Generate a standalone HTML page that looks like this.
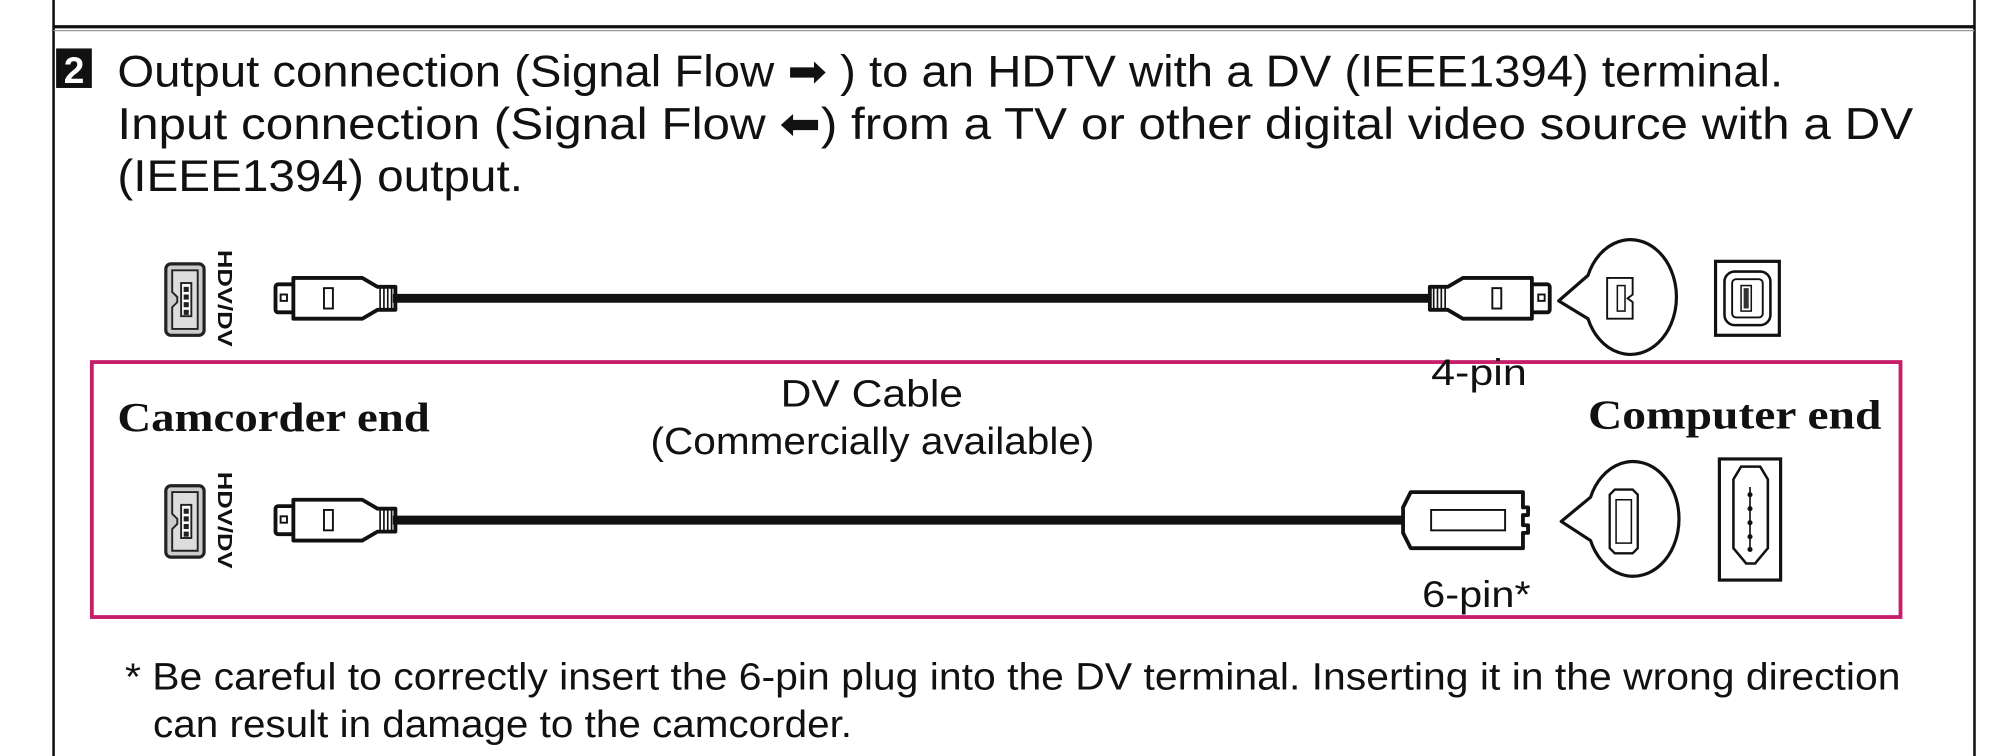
<!DOCTYPE html>
<html><head><meta charset="utf-8"><style>
html,body{margin:0;padding:0;background:#fff;}
svg{display:block;}
.t{font-family:"Liberation Sans","DejaVu Sans",sans-serif;fill:#111;}
.s{font-family:"Liberation Serif",serif;font-weight:bold;fill:#111;}
</style></head><body>
<svg width="2000" height="756" viewBox="0 0 1568 593" preserveAspectRatio="none" xmlns="http://www.w3.org/2000/svg">
<defs>
<g id="port4">
  <rect x="0" y="0" width="30" height="56" rx="4" fill="#ccc" stroke="#222" stroke-width="2.5"/>
  <path d="M5 5 H25 V51 H5 V34 L9 30 V26 L5 22 Z" fill="#ddd" stroke="#222" stroke-width="1.5"/>
  <rect x="12" y="15" width="8" height="26" fill="#fff" stroke="#222" stroke-width="1.5"/>
  <rect x="14" y="18" width="4" height="4" fill="#222"/><rect x="14" y="24" width="4" height="4" fill="#222"/>
  <rect x="14" y="30" width="4" height="4" fill="#222"/><rect x="14" y="36" width="4" height="4" fill="#222"/>
</g>
<g id="plug4">
  <rect x="0" y="-11" width="15" height="22" rx="2" fill="#fff" stroke="#111" stroke-width="3"/>
  <rect x="4" y="-3" width="5" height="5" fill="none" stroke="#111" stroke-width="1.5"/>
  <path d="M14 -16 H68 L80 -9 H94 V9 H80 L68 16 H14 Z" fill="#fff" stroke="#111" stroke-width="3" stroke-linejoin="round"/>
  <rect x="38" y="-8" width="7" height="16" fill="none" stroke="#111" stroke-width="1.5"/>
  <path d="M82 -8 V8 M85 -8 V8 M88 -8 V8 M91 -8 V8" stroke="#111" stroke-width="1.3"/>
</g>
</defs>

<line x1="42" y1="0" x2="42" y2="593" stroke="#111" stroke-width="2"/>
<line x1="1548" y1="0" x2="1548" y2="593" stroke="#111" stroke-width="2"/>
<line x1="42" y1="21" x2="1548" y2="21" stroke="#111" stroke-width="2.5"/>
<line x1="42" y1="24" x2="1548" y2="24" stroke="#999" stroke-width="1"/>

<rect x="44" y="38" width="28" height="31" fill="#111"/>
<text x="58" y="65" text-anchor="middle" class="t" style="fill:#fff;font-weight:bold" font-size="29">2</text>

<text x="92" y="68" class="t" font-size="35" textLength="1306" lengthAdjust="spacingAndGlyphs">Output connection (Signal Flow ➡ ) to an HDTV with a DV (IEEE1394) terminal.</text>
<text x="92" y="109" class="t" font-size="35" textLength="1408" lengthAdjust="spacingAndGlyphs">Input connection (Signal Flow ⬅) from a TV or other digital video source with a DV</text>
<text x="92" y="150" class="t" font-size="35" textLength="318" lengthAdjust="spacingAndGlyphs">(IEEE1394) output.</text>

<use href="#port4" x="130" y="207"/>
<text transform="translate(171,196) rotate(90)" class="t" font-weight="bold" font-size="16" textLength="76" lengthAdjust="spacingAndGlyphs">HDV/DV</text>
<use href="#plug4" x="216" y="234"/>
<line x1="308" y1="234" x2="1122" y2="234" stroke="#111" stroke-width="7"/>
<use href="#plug4" transform="translate(1215,234) scale(-1,1)"/>
<path d="M1245 216 A36 45 0 1 1 1245 250 L1222 236 Z" fill="#fff" stroke="#111" stroke-width="2.5" stroke-linejoin="round"/>
<path d="M1260 218 H1280 V231 L1276 234 L1280 237 V250 H1260 Z" fill="#fff" stroke="#111" stroke-width="1.5"/>
<rect x="1268" y="224" width="6" height="20" fill="none" stroke="#111" stroke-width="1.2"/>
<rect x="1345" y="205" width="50" height="58" fill="#fff" stroke="#111" stroke-width="2.5"/>
<rect x="1352" y="213" width="36" height="42" rx="8" fill="#fff" stroke="#111" stroke-width="2"/>
<rect x="1358" y="219" width="24" height="30" rx="3" fill="#fff" stroke="#111" stroke-width="1.5"/>
<rect x="1365" y="224" width="8" height="20" fill="none" stroke="#111" stroke-width="1.2"/>
<rect x="1367" y="226" width="4" height="16" fill="#333"/>

<rect x="72" y="284" width="1418" height="200" fill="none" stroke="#c71e6a" stroke-width="3"/>
<text x="92" y="338" class="s" font-size="32" textLength="245" lengthAdjust="spacingAndGlyphs">Camcorder end</text>
<text x="1475" y="336" class="s" font-size="32" text-anchor="end" textLength="230" lengthAdjust="spacingAndGlyphs">Computer end</text>
<text x="612" y="319" class="t" font-size="30" textLength="143" lengthAdjust="spacingAndGlyphs">DV Cable</text>
<text x="510" y="356" class="t" font-size="30" textLength="348" lengthAdjust="spacingAndGlyphs">(Commercially available)</text>
<text x="1122" y="302" class="t" font-size="29" textLength="75" lengthAdjust="spacingAndGlyphs">4-pin</text>
<text x="1115" y="476" class="t" font-size="29" textLength="85" lengthAdjust="spacingAndGlyphs">6-pin*</text>

<use href="#port4" x="130" y="381"/>
<text transform="translate(171,370) rotate(90)" class="t" font-weight="bold" font-size="16" textLength="76" lengthAdjust="spacingAndGlyphs">HDV/DV</text>
<use href="#plug4" x="216" y="408"/>
<line x1="308" y1="408" x2="1100" y2="408" stroke="#111" stroke-width="7"/>
<path d="M1100 398 L1106 386 H1194 V398 H1198 V404 H1194 V412 H1198 V418 H1194 V430 H1106 L1100 418 Z" fill="#fff" stroke="#111" stroke-width="3" stroke-linejoin="round"/>
<rect x="1122" y="400" width="58" height="16" fill="#fff" stroke="#111" stroke-width="1.5"/>
<path d="M1247 390 A36 45 0 1 1 1247 424 L1224 409 Z" fill="#fff" stroke="#111" stroke-width="2.5" stroke-linejoin="round"/>
<path d="M1262 388 L1266 384 H1280 L1284 388 V430 L1280 434 H1266 L1262 430 Z" fill="#fff" stroke="#111" stroke-width="1.8"/>
<rect x="1267" y="392" width="12" height="34" fill="none" stroke="#111" stroke-width="1.2"/>
<rect x="1348" y="360" width="48" height="95" fill="#fff" stroke="#111" stroke-width="2.5"/>
<path d="M1365 366 H1380 L1386 376 V430 L1376 442 H1369 L1359 430 V376 Z" fill="#fff" stroke="#111" stroke-width="2"/>
<line x1="1372" y1="382" x2="1372" y2="432" stroke="#111" stroke-width="1.3"/>
<circle cx="1372" cy="388" r="2" fill="#111"/><circle cx="1372" cy="399" r="2" fill="#111"/>
<circle cx="1372" cy="410" r="2" fill="#111"/><circle cx="1372" cy="421" r="2" fill="#111"/>
<circle cx="1372" cy="431" r="2" fill="#111"/>

<text x="98" y="541" class="t" font-size="30" textLength="1392" lengthAdjust="spacingAndGlyphs">* Be careful to correctly insert the 6-pin plug into the DV terminal. Inserting it in the wrong direction</text>
<text x="120" y="578" class="t" font-size="30" textLength="548" lengthAdjust="spacingAndGlyphs">can result in damage to the camcorder.</text>
</svg>
</body></html>
